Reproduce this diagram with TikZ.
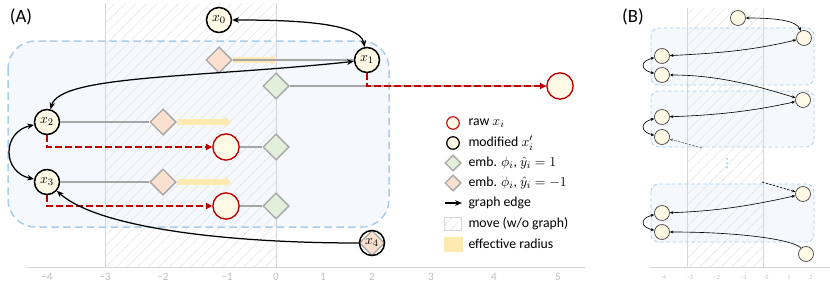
\documentclass[tikz,border=0pt]{standalone}
\usepackage{amsmath}
\usepackage{amssymb}
\usepackage{fontspec}
\setmainfont{Carlito}
\newfontfamily\symfont{DejaVu Sans}
\usetikzlibrary{arrows.meta,shapes.geometric,patterns.meta}

\definecolor{cream}{HTML}{FFF9E6}
\definecolor{rawred}{HTML}{C00000}
\definecolor{posgreen}{HTML}{E2EFDA}
\definecolor{negorange}{HTML}{FBE0CF}
\definecolor{radyellow}{HTML}{FDEAB0}
\definecolor{boxblue}{HTML}{A9CCEC}
\definecolor{dotblue}{HTML}{8DB8E2}
\definecolor{boxfill}{HTML}{F5F9FD}
\definecolor{linegray}{HTML}{A6A6A6}
\definecolor{gridgray}{HTML}{D6D6D6}
\definecolor{ticklabel}{HTML}{BFBFBF}

\begin{document}
\begin{tikzpicture}[x=0.8pt, y=-0.8pt, font=\fontsize{11}{13}\selectfont,
    >={Stealth[length=5.5pt,width=4.5pt]},
    modnode/.style={circle, draw=black, line width=1.2pt, fill=cream, minimum size=20pt, inner sep=0pt},
    rawnode/.style={circle, draw=rawred, line width=1.1pt, fill=cream, minimum size=21pt, inner sep=0pt},
    posdia/.style={diamond, draw=linegray, line width=1pt, fill=posgreen, minimum size=21pt, inner sep=0pt},
    negdia/.style={diamond, draw=linegray, line width=1pt, fill=negorange, minimum size=21pt, inner sep=0pt},
    grayline/.style={draw=linegray, line width=1pt},
    rawmove/.style={draw=rawred, line width=1pt, dash pattern=on 5pt off 3pt, -{Triangle[length=5pt,width=5pt]}},
    radarrow/.style={draw=radyellow, line width=4.5pt, -{Triangle[length=5pt,width=9pt]}},
    graphedge/.style={line width=1pt},
    hatch/.style={pattern={Lines[angle=45,distance=6pt,line width=0.5pt]}, pattern color=gridgray!60},
    gridline/.style={draw=gridgray, line width=0.8pt},
    boxborder/.style={draw=boxblue, line width=1.2pt, dash pattern=on 6pt off 3.5pt},
    legtext/.style={anchor=west, inner sep=1pt},
    ticktext/.style={text=ticklabel, font=\fontsize{9}{10}\selectfont},
    panellabel/.style={font=\fontsize{15}{17}\selectfont},
    bnode/.style={circle, draw=black!70, line width=0.6pt, fill=cream, minimum size=12pt, inner sep=0pt},
    bedge/.style={line width=0.5pt, >={Stealth[length=2.8pt,width=2.4pt]}},
    bborder/.style={draw=boxblue, line width=0.6pt, dash pattern=on 3pt off 2pt},
    bticktext/.style={text=ticklabel, font=\fontsize{5}{6}\selectfont}]
    \useasboundingbox (0,0) rectangle (830,288);

    % Panel A: region, grid and axis
    \fill[boxfill, rounded corners=22pt] (8,41) rectangle (389,227);
    \fill[hatch] (105,3) rectangle (276,267);
    \draw[gridline] (105,3) -- (105,267);
    \draw[gridline] (276,3) -- (276,267);
    \draw[gridline] (27,267) -- (585,267);
    \draw[boxborder, rounded corners=22pt] (8,41) rectangle (389,227);
    \foreach \px/\lab [count=\k] in {47/−4, 105/−3, 163/−2, 227/−1, 276/0, 323/1, 372/2, 431/3, 494/4, 558/5}
        \node[ticktext] (tickA\k) at (\px,277) {\lab};
    \node[panellabel] (labelA) at (21,17) {(A)};

    % Embeddings
    \node[negdia] (o1) at (219,60) {};
    \node[posdia] (g1) at (276,86) {};
    \node[negdia] (o2) at (163,122) {};
    \node[posdia] (g2) at (276,147) {};
    \node[negdia] (o3) at (163,182) {};
    \node[posdia] (g3) at (276,206) {};
    \coordinate (e1) at (277,60);
    \coordinate (e2) at (231,122);
    \coordinate (e3) at (231,182);

    % Raw points
    \node[rawnode] (r1) at (560,86) {};
    \node[rawnode] (r2) at (226,147) {};
    \node[rawnode] (r3) at (226,206) {};

    % Modified points
    \node[modnode] (x0) at (219,20) {$x_0$};
    \node[modnode] (x1) at (367,60) {$x_1$};
    \node[modnode] (x2) at (47,122) {$x_2$};
    \node[modnode] (x3) at (47,182) {$x_3$};
    \node[negdia, minimum size=20pt] (o4) at (372,243) {};
    \node[modnode, fill=none] (x4) at (372,243) {$x_4$};

    % Links and moves
    \draw[radarrow] (o1) -- (e1);
    \draw[radarrow] (o2) -- (e2);
    \draw[radarrow] (o3) -- (e3);
    \draw[grayline] (x1) -- (o1);
    \draw[grayline] (g1) -- (r1);
    \draw[grayline] (x2) -- (o2);
    \draw[grayline] (r2) -- (g2);
    \draw[grayline] (x3) -- (o3);
    \draw[grayline] (r3) -- (g3);
    \draw[rawmove] (x1) |- (r1);
    \draw[rawmove] (x2) |- (r2);
    \draw[rawmove] (x3) |- (r3);

    % Graph edges
    \draw[graphedge, <->] (x0) .. controls +(70,0) and +(-7,-38) .. (x1);
    \draw[graphedge, <->] (x2) .. controls +(13,-47) and +(-170,18) .. (x1);
    \draw[graphedge, <->] (x2) .. controls +(-45,10) and +(-45,-10) .. (x3);
    \draw[graphedge, ->] (x4) .. controls +(-150,0) and +(50,45) .. (x3);

    % Legend
    \node[rawnode, minimum size=10pt, line width=0.9pt] (legraw) at (453,123) {};
    \node[legtext] (legrawtext) at (467,123) {raw $x_i$};
    \node[modnode, minimum size=10pt, line width=1pt] (legmod) at (453,143) {};
    \node[legtext] (legmodtext) at (467,143) {modified $x_i'$};
    \node[posdia, minimum size=13pt] (legpos) at (453,163) {};
    \node[legtext] (legpostext) at (467,163) {emb. $\phi_i$, $\hat{y}_i=1$};
    \node[negdia, minimum size=13pt] (legneg) at (453,183) {};
    \node[legtext] (legnegtext) at (467,183) {emb. $\phi_i$, $\hat{y}_i=-1$};
    \coordinate (legedgea) at (445,203);
    \coordinate (legedgeb) at (462,203);
    \draw[graphedge, ->] (legedgea) -- (legedgeb);
    \node[legtext] (legedgetext) at (467,203) {graph edge};
    \node[rectangle, draw=gridgray, line width=0.8pt, hatch, minimum width=14pt, minimum height=11pt] (legmove) at (453,224) {};
    \node[legtext] (legmovetext) at (467,224) {move (w/o graph)};
    \node[rectangle, draw=radyellow, fill=radyellow, minimum width=14pt, minimum height=11pt] (legrad) at (453,244) {};
    \node[legtext] (legradtext) at (467,244) {effective radius};

    % Panel B: regions, grid and axis
    \fill[boxfill, rounded corners=6pt] (651,28) rectangle (814,85);
    \fill[boxfill, rounded corners=6pt] (651,91) rectangle (814,147);
    \fill[boxfill, rounded corners=6pt] (651,184) rectangle (814,242);
    \fill[hatch] (687,8) rectangle (763,267);
    \draw[gridline, line width=0.5pt] (687,8) -- (687,267);
    \draw[gridline, line width=0.5pt] (763,8) -- (763,267);
    \draw[gridline, line width=0.6pt] (650,267) -- (830,267);
    \draw[bborder, rounded corners=6pt] (651,28) rectangle (814,85);
    \draw[bborder, rounded corners=6pt] (651,91) rectangle (814,147);
    \draw[bborder, rounded corners=6pt] (651,184) rectangle (814,242);
    \foreach \px/\lab [count=\k] in {663/−4, 690/−3, 717/−2, 744/−1, 767/0, 789/1, 811/2}
        \node[bticktext] (tickB\k) at (\px,277) {\lab};
    \node[panellabel] (labelB) at (633,17) {(B)};
    \node[text=dotblue, inner sep=0pt, font=\symfont\fontsize{10}{10}\selectfont] (dotsB) at (727,164) {⋮};

    % Panel B points
    \node[bnode] (b0) at (738,18) {};
    \node[bnode] (b1) at (804,38) {};
    \node[bnode] (b2) at (662,56) {};
    \node[bnode] (b3) at (662,75) {};
    \node[bnode] (b4) at (803,100) {};
    \node[bnode] (b5) at (662,117) {};
    \node[bnode] (b6) at (662,137) {};
    \node[bnode] (b7) at (803,194) {};
    \node[bnode] (b8) at (662,213) {};
    \node[bnode] (b9) at (662,232) {};
    \node[bnode] (b10) at (806,254) {};
    \coordinate (bf1) at (702,148);
    \coordinate (bf2) at (762,182);

    % Panel B edges
    \draw[bedge, <->] (b0) .. controls +(35,0) and +(-8,-18) .. (b1);
    \draw[bedge, <->] (b2) .. controls +(60,-3) and +(-50,12) .. (b1);
    \draw[bedge, <->] (b2) .. controls +(-22,5) and +(-22,-5) .. (b3);
    \draw[bedge, <->] (b3) .. controls +(60,0) and +(-40,-12) .. (b4);
    \draw[bedge, <->] (b5) .. controls +(60,-2) and +(-45,10) .. (b4);
    \draw[bedge, <->] (b5) .. controls +(-22,5) and +(-22,-5) .. (b6);
    \draw[bedge, ->, draw=black!60, dash pattern=on 2pt off 1pt] (bf1) -- (b6);
    \draw[bedge, ->, dash pattern=on 2pt off 1pt] (bf2) -- (b7);
    \draw[bedge, <->] (b8) .. controls +(60,-2) and +(-45,10) .. (b7);
    \draw[bedge, <->] (b8) .. controls +(-22,5) and +(-22,-5) .. (b9);
    \draw[bedge, ->] (b10) .. controls +(-12,-14) and +(80,0) .. (b9);
\end{tikzpicture}
\end{document}
